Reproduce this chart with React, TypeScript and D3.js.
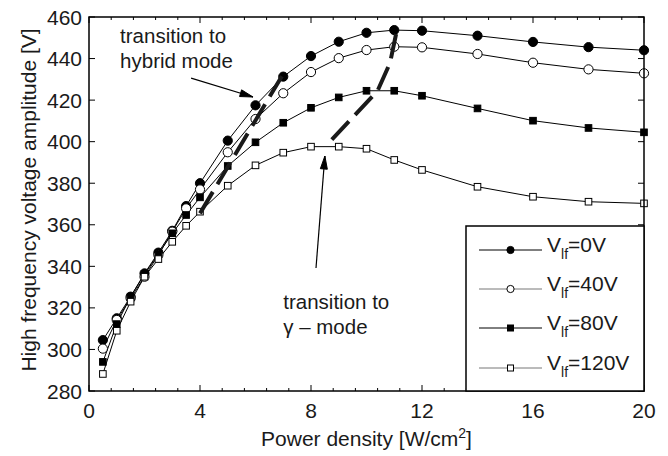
import React from "react";
import * as d3 from "d3";

const power = [0.5, 1, 1.5, 2, 2.5, 3, 3.5, 4, 5, 6, 7, 8, 9, 10, 11, 12, 14, 16, 18, 20];
const v0 = [304.5, 315, 325.4, 336.6, 346.6, 357.1, 369, 380, 400.5, 417.5, 431.3, 441.2, 448.1, 452.4, 453.7, 453.4, 451, 448, 445.5, 444];
const v40 = [300.4, 314.2, 324.6, 335, 345.5, 356.7, 367.9, 377, 394.9, 410.9, 423.3, 433.5, 440.2, 444.1, 445.7, 445.4, 442.2, 438, 434.8, 432.9];
const v80 = [294, 312.2, 325.4, 336.2, 345.9, 355.9, 364.7, 373.2, 388.3, 399.7, 409.1, 416.3, 421.3, 424.5, 424.5, 422.1, 416, 410.1, 406.6, 404.5];
const v120 = [288.2, 309, 323, 335, 343.5, 351.8, 359.5, 366.3, 378.8, 388.6, 394.7, 397.6, 397.6, 396.6, 391.2, 386.4, 378.3, 373.5, 371.1, 370.3];

const xTicks = [0, 4, 8, 12, 16, 20];
const yTicks = [280, 300, 320, 340, 360, 380, 400, 420, 440, 460];

// transition lines (thick dashed)
const hybridLine: [number, number][] = [[4.0, 365.5], [6.95, 431.5]];
const gammaLine: [number, number][] = [[8.75, 401], [10.4, 424.5], [10.85, 438], [11.1, 454]];

const series = [
  { name: "0V", values: v0, marker: "circle", filled: true, legendColor: "#000" },
  { name: "40V", values: v40, marker: "circle", filled: false, legendColor: "#777" },
  { name: "80V", values: v80, marker: "square", filled: true, legendColor: "#000" },
  { name: "120V", values: v120, marker: "square", filled: false, legendColor: "#777" },
];

const W = 668;
const H = 456;
const left = 89;
const right = 644;
const top = 17;
const bottom = 391;
const font = "'Liberation Sans', Arial, Helvetica, sans-serif";
const fs = 21;

function Marker({ type, filled, x, y, size }: any) {
  if (type === "circle") {
    return <circle cx={x} cy={y} r={size} fill={filled ? "#000" : "#fff"} stroke="#000" strokeWidth={1} />;
  }
  return (
    <rect x={x - size} y={y - size} width={size * 2} height={size * 2}
      fill={filled ? "#000" : "#fff"} stroke="#000" strokeWidth={1} />
  );
}

function Arrow({ x1, y1, x2, y2 }: any) {
  const a = Math.atan2(y2 - y1, x2 - x1);
  const len = 13, hw = 3.5;
  const bx = x2 - len * Math.cos(a), by = y2 - len * Math.sin(a);
  const px = -Math.sin(a) * hw, py = Math.cos(a) * hw;
  return (
    <g>
      <line x1={x1} y1={y1} x2={x2} y2={y2} stroke="#000" strokeWidth={1.2} />
      <path d={`M${bx + px},${by + py}L${x2},${y2}L${bx - px},${by - py}Z`} fill="#000" stroke="#000" strokeWidth={1} />
    </g>
  );
}

export default function App() {
  const x = d3.scaleLinear().domain([0, 20]).range([left, right]);
  const y = d3.scaleLinear().domain([280, 460]).range([bottom, top]);
  const line = d3.line<number>().x((_, i) => x(power[i])).y((d) => y(d));
  const pline = d3.line<[number, number]>().x((d) => x(d[0])).y((d) => y(d[1]));

  const minorX = d3.range(0, 20.01, 0.8).filter((t) => !xTicks.some((m) => Math.abs(m - t) < 1e-6));

  const legX = 466, legY = 226;
  const rowY = [250, 289, 328, 368];

  return (
    <svg width={W} height={H} style={{ position: "absolute", left: 0, top: 0, background: "#fff" }} fontFamily={font}>
      {/* ticks */}
      {xTicks.map((t) => (
        <g key={"xt" + t}>
          <line x1={x(t)} x2={x(t)} y1={bottom} y2={bottom - 6} stroke="#000" />
          <line x1={x(t)} x2={x(t)} y1={top} y2={top + 6} stroke="#000" />
          <text x={x(t)} y={bottom + 27} fontSize={fs} textAnchor="middle" fill="#1a1a1a">{t}</text>
        </g>
      ))}
      {minorX.map((t, i) => (
        <g key={"mx" + i}>
          <line x1={x(t)} x2={x(t)} y1={bottom} y2={bottom - 3} stroke="#000" />
          <line x1={x(t)} x2={x(t)} y1={top} y2={top + 3} stroke="#000" />
        </g>
      ))}
      {yTicks.map((t) => (
        <g key={"yt" + t}>
          <line x1={left} x2={left + 6} y1={y(t)} y2={y(t)} stroke="#000" />
          <line x1={right} x2={right - 6} y1={y(t)} y2={y(t)} stroke="#000" />
          <text x={left - 7} y={y(t) + 7.5} fontSize={fs} textAnchor="end" fill="#1a1a1a">{t}</text>
        </g>
      ))}

      {/* series */}
      {series.map((s) => (
        <path key={"l" + s.name} d={line(s.values) || ""} fill="none" stroke="#000" strokeWidth={1} />
      ))}
      {series.map((s) =>
        s.values.map((v, i) => (
          <Marker key={s.name + i} type={s.marker} filled={s.filled} x={x(power[i])} y={y(v)}
            size={s.marker === "circle" ? 4.6 : 3.3} />
        ))
      )}

      {/* transition lines */}
      <path d={pline(hybridLine) || ""} fill="none" stroke="#1a1a1a" strokeWidth={4} strokeDasharray="25 9" />
      <path d={pline(gammaLine) || ""} fill="none" stroke="#1a1a1a" strokeWidth={4} strokeDasharray="25 9" />

      {/* annotations */}
      <text x={x(1.12)} y={y(447.5)} fontSize={20.5} fill="#1a1a1a">transition to</text>
      <text x={x(1.12)} y={y(435.4)} fontSize={20.5} fill="#1a1a1a">hybrid mode</text>
      <Arrow x1={x(3.68)} y1={y(430.6)} x2={x(5.91)} y2={y(421.5)} />

      <text x={x(7.0)} y={y(319.5)} fontSize={20.5} fill="#1a1a1a">transition to</text>
      <text x={x(7.0)} y={y(307.4)} fontSize={20.5} fill="#1a1a1a">γ – mode</text>
      <Arrow x1={x(8.18)} y1={y(339.2)} x2={x(8.5)} y2={y(393.1)} />

      {/* frame */}
      <rect x={left} y={top} width={right - left} height={bottom - top} fill="none" stroke="#000" strokeWidth={1.5} />

      {/* legend */}
      <rect x={legX} y={legY} width={right - legX} height={bottom - legY} fill="#fff" stroke="#000" strokeWidth={1.5} />
      {series.map((s, i) => (
        <g key={"lg" + s.name}>
          <line x1={479} x2={542} y1={rowY[i]} y2={rowY[i]} stroke={s.legendColor} strokeWidth={1} />
          <Marker type={s.marker} filled={s.filled} x={510.5} y={rowY[i]} size={s.marker === "circle" ? 3.6 : 3} />
          <text x={547} y={rowY[i] + 2} fontSize={fs} fill="#1a1a1a">
            V<tspan fontSize={14} dy={7}>lf</tspan><tspan dy={-7}>={s.name}</tspan>
          </text>
        </g>
      ))}

      {/* axis labels */}
      <text x={(left + right) / 2} y={446} fontSize={fs} textAnchor="middle" fill="#1a1a1a">
        Power density [W/cm<tspan fontSize={14} dy={-8}>2</tspan><tspan dy={8}>]</tspan>
      </text>
      <text transform={`translate(36,${(top + bottom) / 2 - 4}) rotate(-90)`} fontSize={fs} textAnchor="middle" fill="#1a1a1a">
        High frequency voltage amplitude [V]
      </text>
    </svg>
  );
}
